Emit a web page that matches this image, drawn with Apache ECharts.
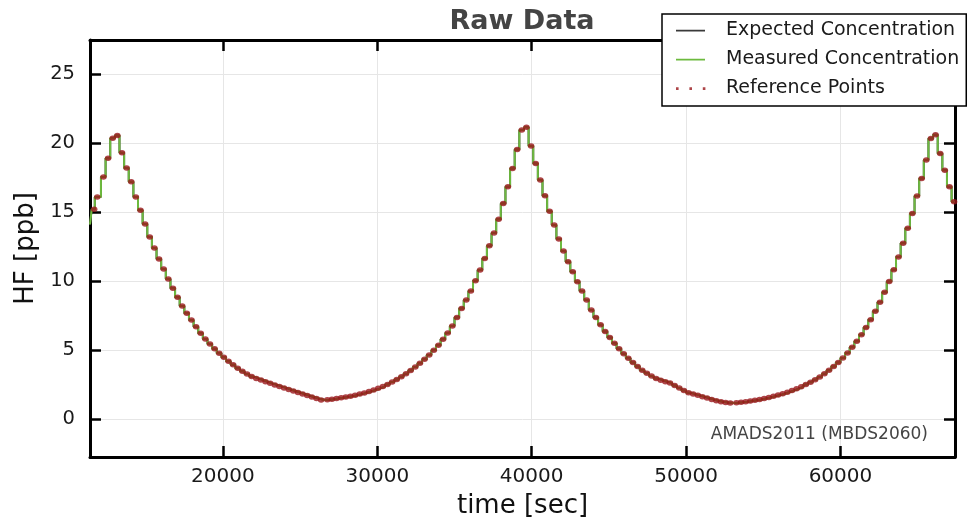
<!DOCTYPE html>
<html>
<head>
<meta charset="utf-8">
<script src="https://cdn.jsdelivr.net/npm/echarts@6.0.0/dist/echarts.min.js"></script>
<style>html,body{margin:0;padding:0;background:#fff;}#c{width:971px;height:529px;}</style>
</head>
<body>
<div id="c"></div>
<script>
// plateau start times [sec]
const stepTimes = [
11390,11500,11700,12100,12400,12700,13000,13300,13600,13900,14200,14500,14800,15100,15400,15700,16000,16300,16600,16900,
17200,17500,17800,18100,18400,18700,19000,19300,19600,19900,20200,20500,20800,21100,21400,21700,22000,22300,22600,22900,
23200,23500,23800,24100,24400,24700,25000,25300,25600,25900,26200,26600,26900,27200,27500,27800,28100,28400,28700,29000,
29300,29600,29900,30200,30500,30800,31100,31400,31700,32000,32300,32600,32900,33200,33500,33800,34100,34400,34700,35000,
35300,35600,35900,36200,36500,36800,37100,37400,37700,38000,38300,38600,38900,39200,39500,39800,40100,40400,40700,41000,
41300,41600,41900,42200,42500,42800,43100,43400,43700,44000,44300,44600,44900,45200,45500,45800,46100,46400,46700,47000,
47300,47600,47900,48200,48500,48800,49100,49400,49700,50000,50300,50600,50900,51200,51500,51800,52100,52400,52700,53100,
53400,53700,54000,54300,54600,54900,55200,55500,55800,56100,56400,56700,57000,57300,57600,57900,58200,58500,58800,59100,
59400,59700,60000,60300,60600,60900,61200,61500,61800,62100,62400,62700,63000,63300,63600,63900,64200,64500,64800,65100,
65400,65700,66000,66300,66600,66900,67200
];
// expected concentration plateau values [ppb]
const expectedValues = [
14.1,15.2,16.1,17.55,18.9,20.35,20.55,19.3,18.2,17.2,16.1,15.14,14.13,13.2,12.4,11.6,10.87,10.14,9.47,8.82,
8.19,7.66,7.17,6.69,6.21,5.8,5.43,5.09,4.77,4.47,4.19,3.93,3.68,3.45,3.25,3.07,2.94,2.82,2.70,2.58,
2.47,2.36,2.25,2.14,2.03,1.92,1.81,1.70,1.59,1.48,1.37,1.39,1.43,1.48,1.53,1.59,1.65,1.72,1.80,1.89,
1.99,2.10,2.22,2.35,2.50,2.67,2.86,3.06,3.28,3.51,3.76,4.03,4.32,4.64,4.98,5.35,5.78,6.24,6.74,7.35,
8.0,8.62,9.28,10.02,10.80,11.64,12.56,13.48,14.49,15.63,16.84,18.16,19.54,20.95,21.15,19.8,18.53,17.32,16.18,15.07,
14.06,13.04,12.17,11.40,10.67,9.95,9.28,8.62,7.90,7.35,6.83,6.35,5.90,5.48,5.09,4.73,4.40,4.09,3.80,3.54,
3.32,3.12,2.94,2.80,2.70,2.60,2.42,2.24,2.07,1.90,1.80,1.71,1.61,1.52,1.41,1.32,1.24,1.19,1.16,1.18,
1.21,1.25,1.30,1.35,1.41,1.48,1.56,1.64,1.73,1.83,1.94,2.06,2.19,2.33,2.50,2.66,2.84,3.05,3.28,3.53,
3.80,4.09,4.42,4.78,5.19,5.63,6.11,6.63,7.20,7.81,8.47,9.19,9.97,10.82,11.74,12.74,13.82,14.9,16.16,17.44,
18.77,20.34,20.6,19.25,18.04,16.84,15.75
];
// measured concentration follows the expected staircase
const measuredValues = expectedValues;
// reference points: one per plateau (none on the partial first plateau)
const referenceValues = expectedValues;

const xMin = 11390, xMax = 67420;
const yMin = -2.76, yMax = 27.48;
const xTickLabels = [20000, 30000, 40000, 50000, 60000];
const yTickLabels = [0, 5, 10, 15, 20, 25];

const FONT = '"DejaVu Sans", Verdana, sans-serif';

function stepData(vals) {
  const d = stepTimes.map((t, i) => [t, vals[i]]);
  d.push([xMax, vals[vals.length - 1]]);
  return d;
}
const refData = stepTimes.slice(1).map((t, i) => [t, referenceValues[i + 1]]);

const bboxMarks = 'M0,0h0.01v0.01h-0.01z M45,10h-0.01v-0.01h0.01z ';
const lineIcon = 'path://' + bboxMarks + 'M0,4.2h29v1.7h-29z';
const dotIcon = 'path://' + bboxMarks + 'M0,3.8h2.6v2.6h-2.6z M13.4,3.8h2.6v2.6h-2.6z M26.8,3.8h2.6v2.6h-2.6z';

const chart = echarts.init(document.getElementById('c'), null, {renderer: 'canvas', width: 971, height: 529});

const axisLineStyle = {color: '#000', width: 3};
const tickStyle = {color: '#000', width: 2.5};

chart.setOption({
  animation: false,
  backgroundColor: '#fff',
  grid: {left: 90, right: 16, top: 40, bottom: 72, containLabel: false},
  xAxis: [
    {
      type: 'value', min: xMin, max: xMax, position: 'bottom', splitNumber: 5,
      axisLine: {show: true, onZero: false, lineStyle: axisLineStyle},
      axisTick: {show: true, inside: true, length: 11, lineStyle: tickStyle},
      axisLabel: {
        show: true, margin: 10, fontSize: 20, color: '#1a1a1a', fontFamily: FONT,
        formatter: v => (xTickLabels.indexOf(Math.round(v)) >= 0 && Math.abs(v - Math.round(v)) < 1e-6) ? String(Math.round(v)) : ''
      },
      splitLine: {show: true, lineStyle: {color: '#e6e6e6', width: 1}},
      name: 'time [sec]', nameLocation: 'middle', nameGap: 36,
      nameTextStyle: {fontSize: 26, color: '#111', fontFamily: FONT}
    },
    {
      type: 'value', min: xMin, max: xMax, position: 'top', splitNumber: 5,
      axisLine: {show: true, onZero: false, lineStyle: axisLineStyle},
      axisTick: {show: true, inside: true, length: 11, lineStyle: tickStyle},
      axisLabel: {show: false}, splitLine: {show: false}
    }
  ],
  yAxis: [
    {
      type: 'value', min: yMin, max: yMax, position: 'left', splitNumber: 6,
      axisLine: {show: true, onZero: false, lineStyle: axisLineStyle},
      axisTick: {show: true, inside: true, length: 11, lineStyle: tickStyle},
      axisLabel: {
        show: true, margin: 15, fontSize: 19.5, color: '#1a1a1a', fontFamily: FONT,
        formatter: v => (yTickLabels.indexOf(Math.round(v)) >= 0 && Math.abs(v - Math.round(v)) < 1e-6) ? String(Math.round(v)) : ''
      },
      splitLine: {show: true, lineStyle: {color: '#e6e6e6', width: 1}},
      name: 'HF [ppb]', nameLocation: 'middle', nameGap: 48,
      nameTextStyle: {fontSize: 26, color: '#111', fontFamily: FONT}
    },
    {
      type: 'value', min: yMin, max: yMax, position: 'right', splitNumber: 6,
      axisLine: {show: true, onZero: false, lineStyle: axisLineStyle},
      axisTick: {show: true, inside: true, length: 11, lineStyle: tickStyle},
      axisLabel: {show: false}, splitLine: {show: false}
    }
  ],
  legend: {
    show: true, orient: 'vertical', left: 662, top: 14,
    padding: [7, 7, 8, 14], itemGap: 10,
    itemWidth: 45, itemHeight: 10,
    backgroundColor: '#fff', borderColor: '#000', borderWidth: 1.5,
    selectedMode: false,
    itemStyle: {borderWidth: 0},
    textStyle: {fontSize: 19, color: '#1a1a1a', fontFamily: FONT},
    data: [
      {name: 'Expected Concentration', icon: lineIcon},
      {name: 'Measured Concentration', icon: lineIcon},
      {name: 'Reference Points', icon: dotIcon}
    ]
  },
  graphic: [
    {type: 'text', x: 522, y: 8, z: 100,
     style: {text: 'Raw Data', align: 'center', verticalAlign: 'top', font: 'bold 27px ' + FONT, fill: '#444'}},
    {type: 'text', x: 928, y: 435, z: 100,
     style: {text: 'AMADS2011 (MBDS2060)', align: 'right', verticalAlign: 'middle', font: '17px ' + FONT, fill: '#444'}}
  ],
  series: [
    {
      name: 'Expected Concentration', type: 'line', step: 'end', showSymbol: false, symbol: 'none',
      data: stepData(expectedValues), color: '#3a3a3a',
      itemStyle: {color: '#3a3a3a'}, lineStyle: {color: '#3a3a3a', width: 2}, z: 2
    },
    {
      name: 'Measured Concentration', type: 'line', step: 'end', showSymbol: false, symbol: 'none',
      data: stepData(measuredValues), color: '#6dba3e',
      itemStyle: {color: '#6dba3e'}, lineStyle: {color: '#6dba3e', width: 2}, z: 3
    },
    {
      name: 'Reference Points', type: 'scatter', data: refData,
      symbol: 'circle', symbolSize: [6.5, 5.5], symbolOffset: [2.5, 0],
      color: '#98161a', itemStyle: {color: '#98161a'}, z: 4
    }
  ]
});
</script>
</body>
</html>
